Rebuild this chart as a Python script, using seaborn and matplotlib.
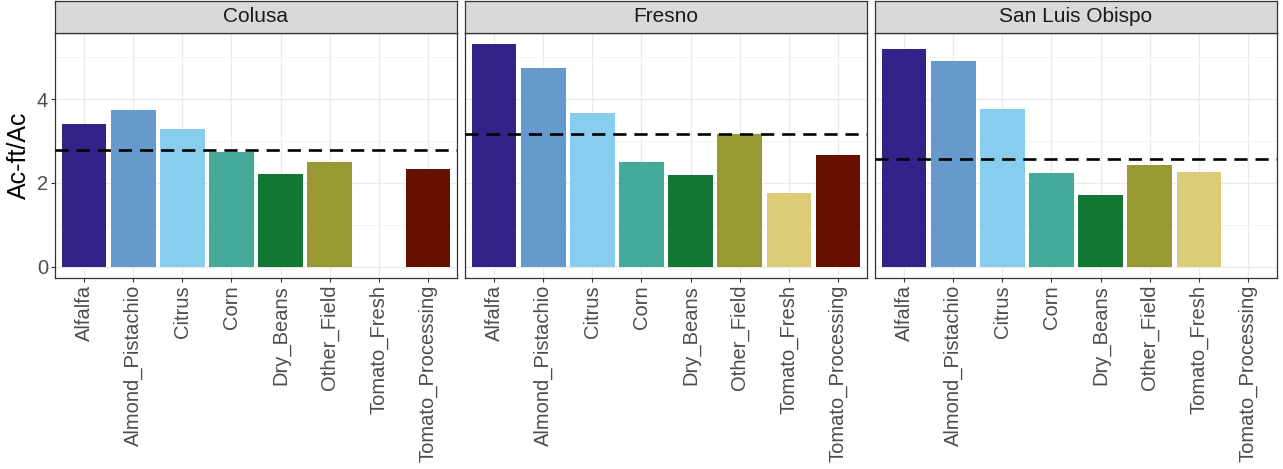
import pandas as pd
import numpy as np
import matplotlib
matplotlib.use('Agg')
import matplotlib.pyplot as plt
import seaborn as sns

# data
counties = ['Colusa', 'Fresno', 'San Luis Obispo']
crops = ['Alfalfa', 'Almond_Pistachio', 'Citrus', 'Corn', 'Dry_Beans',
         'Other_Field', 'Tomato_Fresh', 'Tomato_Processing']
colusa = [3.41, 3.74, 3.29, 2.75, 2.22, 2.50, np.nan, 2.34]
fresno = [5.31, 4.75, 3.67, 2.49, 2.19, 3.16, 1.77, 2.67]
slo = [5.20, 4.90, 3.77, 2.23, 1.72, 2.42, 2.25, np.nan]
county_avg = [2.79, 3.16, 2.57]

crop_colors = ['#332288', '#6699CC', '#88CCEE', '#44AA99', '#117733',
               '#999933', '#DDCC77', '#661100']

rows = []
for county, vals in zip(counties, [colusa, fresno, slo]):
    for crop, v in zip(crops, vals):
        rows.append({'county': county, 'crop': crop, 'value': v})
df = pd.DataFrame(rows)
palette = dict(zip(crops, crop_colors))

sns.set_style('white')
plt.rcParams['font.family'] = ['Liberation Sans', 'DejaVu Sans']

fig = plt.figure(figsize=(12.83, 4.69), dpi=100)
W, H = 1283, 469
left0, pw, gap = 55, 402, 8
ptop, pbot = 33, 278
strip_h = 32

ymax = np.nanmax(df['value'])
ylim = (-0.05 * ymax, ymax * 1.05)

for i, county in enumerate(counties):
    x0 = left0 + i * (pw + gap)
    ax = fig.add_axes([x0 / W, (H - pbot) / H, pw / W, (pbot - ptop) / H])
    sub = df[df['county'] == county]
    sns.barplot(data=sub, x='crop', y='value', hue='crop', order=crops,
                hue_order=crops, palette=palette, width=0.9, dodge=False,
                saturation=1, legend=False, linewidth=0, ax=ax)
    ax.axhline(county_avg[i], color='black', lw=1.9, ls=(0, (5, 3)), zorder=5)

    ax.set_xlim(-0.6, len(crops) - 0.4)
    ax.set_ylim(*ylim)
    ax.set_yticks([0, 2, 4])
    ax.set_yticks([1, 3, 5], minor=True)
    ax.grid(which='major', color='#EBEBEB', lw=1.0)
    ax.grid(which='minor', axis='y', color='#F2F2F2', lw=0.6)
    ax.set_axisbelow(True)
    for s in ax.spines.values():
        s.set_color('#333333')
        s.set_linewidth(0.9)
    ax.tick_params(axis='both', which='major', length=3, width=0.8,
                   color='#333333', labelcolor='#4D4D4D', labelsize=14.5,
                   direction='out', bottom=True, left=True, pad=2)
    ax.tick_params(axis='y', which='minor', length=0)
    ax.set_xticks(range(len(crops)))
    ax.set_xticklabels(crops, rotation=90)
    ax.set_xlabel('')
    if i == 0:
        ax.set_ylabel('Ac-ft/Ac', fontsize=18, color='black', labelpad=4)
    else:
        ax.set_ylabel('')
        ax.set_yticklabels([])
        ax.tick_params(axis='y', which='major', length=0)

    # facet strip
    sax = fig.add_axes([x0 / W, (H - ptop) / H, pw / W, strip_h / H])
    sax.set_facecolor('#D9D9D9')
    sax.set_xticks([])
    sax.set_yticks([])
    for s in sax.spines.values():
        s.set_color('#333333')
        s.set_linewidth(0.9)
    sax.text(0.5, 0.5, county, ha='center', va='center', fontsize=15,
             color='#1A1A1A', transform=sax.transAxes)

fig.savefig('out.png', dpi=100)
